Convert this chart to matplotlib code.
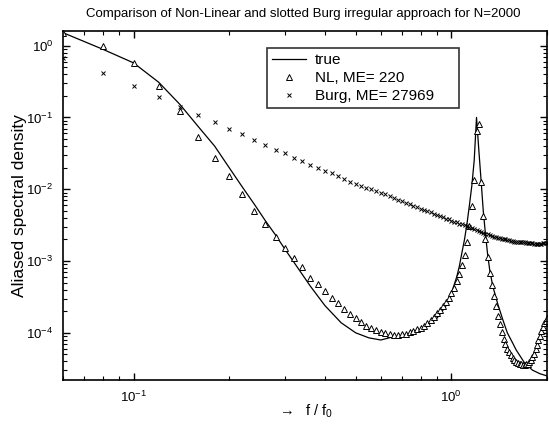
import matplotlib
matplotlib.use('Agg')
import matplotlib.pyplot as plt
import numpy as np

plt.rcParams['font.family'] = ['Liberation Sans', 'DejaVu Sans']
plt.rcParams['mathtext.default'] = 'regular'

# frequency grid of the estimated spectra (f / f0)
freq = [0.06, 0.08, 0.10, 0.12, 0.14, 0.16, 0.18, 0.20, 0.22, 0.24,
        0.26, 0.28, 0.30, 0.32, 0.34, 0.36, 0.38, 0.40, 0.42, 0.44,
        0.46, 0.48, 0.50, 0.52, 0.54, 0.56, 0.58, 0.60, 0.62, 0.64,
        0.66, 0.68, 0.70, 0.72, 0.74, 0.76, 0.78, 0.80, 0.82, 0.84,
        0.86, 0.88, 0.90, 0.92, 0.94, 0.96, 0.98, 1.00, 1.02, 1.04,
        1.06, 1.08, 1.10, 1.12, 1.14, 1.16, 1.18, 1.20, 1.22, 1.24,
        1.26, 1.28, 1.30, 1.32, 1.34, 1.36, 1.38, 1.40, 1.42, 1.44,
        1.46, 1.48, 1.50, 1.52, 1.54, 1.56, 1.58, 1.60, 1.62, 1.64,
        1.66, 1.68, 1.70, 1.72, 1.74, 1.76, 1.78, 1.80, 1.82, 1.84,
        1.86, 1.88, 1.90, 1.92, 1.94, 1.96, 1.98, 2.00]

# log10 of the non-linear estimate
nl_log = [0.18, 0.00, -0.24, -0.56, -0.91, -1.27, -1.56, -1.82, -2.06, -2.30,
          -2.48, -2.67, -2.82, -2.96, -3.09, -3.23, -3.32, -3.42, -3.51, -3.59,
          -3.67, -3.74, -3.80, -3.85, -3.90, -3.93, -3.96, -3.99, -4.00, -4.02,
          -4.03, -4.03, -4.02, -4.01, -3.99, -3.98, -3.95, -3.93, -3.90, -3.86,
          -3.82, -3.78, -3.73, -3.68, -3.63, -3.57, -3.51, -3.44, -3.37, -3.28,
          -3.18, -3.06, -2.92, -2.74, -2.51, -2.24, -1.87, -1.19, -1.09, -1.90,
          -2.37, -2.69, -2.95, -3.16, -3.33, -3.49, -3.63, -3.77, -3.88, -3.99,
          -4.09, -4.16, -4.22, -4.27, -4.31, -4.35, -4.38, -4.40, -4.42, -4.43,
          -4.44, -4.45, -4.45, -4.44, -4.43, -4.41, -4.38, -4.34, -4.29, -4.23,
          -4.17, -4.10, -4.04, -3.98, -3.92, -3.87, -3.83, -3.80]

# log10 of the slotted Burg estimate
burg_log = [-0.17, -0.38, -0.56, -0.72, -0.85, -0.96, -1.06, -1.16, -1.23, -1.31,
            -1.38, -1.45, -1.50, -1.56, -1.61, -1.66, -1.70, -1.74, -1.78, -1.82,
            -1.86, -1.90, -1.93, -1.95, -1.98, -2.00, -2.03, -2.05, -2.07, -2.10,
            -2.12, -2.15, -2.17, -2.19, -2.21, -2.23, -2.25, -2.27, -2.29, -2.30,
            -2.32, -2.34, -2.36, -2.37, -2.39, -2.41, -2.42, -2.44, -2.45, -2.46,
            -2.48, -2.49, -2.50, -2.51, -2.53, -2.54, -2.55, -2.57, -2.58, -2.59,
            -2.61, -2.62, -2.63, -2.64, -2.65, -2.66, -2.67, -2.68, -2.68, -2.69,
            -2.70, -2.70, -2.71, -2.71, -2.72, -2.72, -2.73, -2.73, -2.73, -2.74,
            -2.74, -2.74, -2.74, -2.75, -2.75, -2.75, -2.75, -2.75, -2.76, -2.76,
            -2.76, -2.76, -2.76, -2.76, -2.75, -2.75, -2.75, -2.75]

# true spectrum
true_freq = [0.06, 0.08, 0.10, 0.12, 0.14, 0.16, 0.18, 0.20, 0.22, 0.24,
             0.26, 0.28, 0.30, 0.32, 0.34, 0.36, 0.40, 0.45, 0.50, 0.55,
             0.60, 0.65, 0.70, 0.80, 0.90, 0.96, 1.00, 1.04, 1.06, 1.08,
             1.10, 1.12, 1.14, 1.16, 1.18, 1.20, 1.22, 1.24, 1.26, 1.28,
             1.30, 1.32, 1.35, 1.40, 1.45, 1.50, 1.55, 1.60, 1.70, 1.80,
             1.90, 2.00]
true_log = [0.18, -0.05, -0.24, -0.51, -0.82, -1.13, -1.40, -1.70, -1.97, -2.21,
            -2.44, -2.64, -2.84, -3.02, -3.19, -3.35, -3.62, -3.86, -4.00, -4.07,
            -4.10, -4.06, -4.04, -3.96, -3.80, -3.63, -3.45, -3.22, -3.07, -2.88,
            -2.70, -2.48, -2.22, -1.95, -1.60, -1.00, -1.45, -1.87, -2.30, -2.62,
            -2.90, -3.12, -3.35, -3.60, -3.81, -4.00, -4.12, -4.24, -4.42, -4.52,
            -4.57, -4.60]

fig = plt.figure(figsize=(5.49, 4.28), dpi=100)
ax = fig.add_axes([0.1148, 0.1121, 0.8816, 0.8155])

ax.plot(true_freq, 10 ** np.array(true_log), color='black', lw=0.9, label='true')
ax.plot(freq, 10 ** np.array(nl_log), linestyle='none', marker='^', ms=4.2,
        mfc='white', mec='black', mew=0.7, label='NL, ME= 220')
ax.plot(freq, 10 ** np.array(burg_log), linestyle='none', marker='x', ms=2.6,
        color='black', mew=0.7, label='Burg, ME= 27969')

ax.set_xscale('log')
ax.set_yscale('log')
ax.set_xlim(0.06, 2.0)
ax.set_ylim(2.2e-5, 1.6)

ax.tick_params(which='both', direction='in', top=True, right=True, labelsize=9.5)
ax.tick_params(which='major', length=5, width=1)
ax.tick_params(which='minor', length=3, width=0.8)
ax.tick_params(axis='x', pad=7)
ax.tick_params(axis='y', pad=7)
ax.xaxis.set_minor_formatter(matplotlib.ticker.NullFormatter())
for s in ax.spines.values():
    s.set_linewidth(1.2)

ax.set_ylabel('Aliased spectral density', fontsize=12.5)
ax.yaxis.set_label_coords(-0.074, 0.5)
ax.set_xlabel(r'$\rightarrow$  f / f$_0$', fontsize=10.5)
ax.xaxis.set_label_coords(0.5, -0.066)
fig.text(0.553, 1 - 14 / 428, 'Comparison of Non-Linear and slotted Burg irregular approach for N=2000',
         ha='center', va='center', fontsize=9.5)

leg = ax.legend(loc='upper left', bbox_to_anchor=(0.4215, 0.951, 0.397, 0.0), mode='expand',
                fontsize=11, frameon=True, fancybox=False, borderpad=0.35,
                labelspacing=0.25, handlelength=2.2, handletextpad=0.6, borderaxespad=0)
leg.get_frame().set_edgecolor('black')
leg.get_frame().set_linewidth(1.2)

plt.savefig('out.png', dpi=100)
plt.close()
